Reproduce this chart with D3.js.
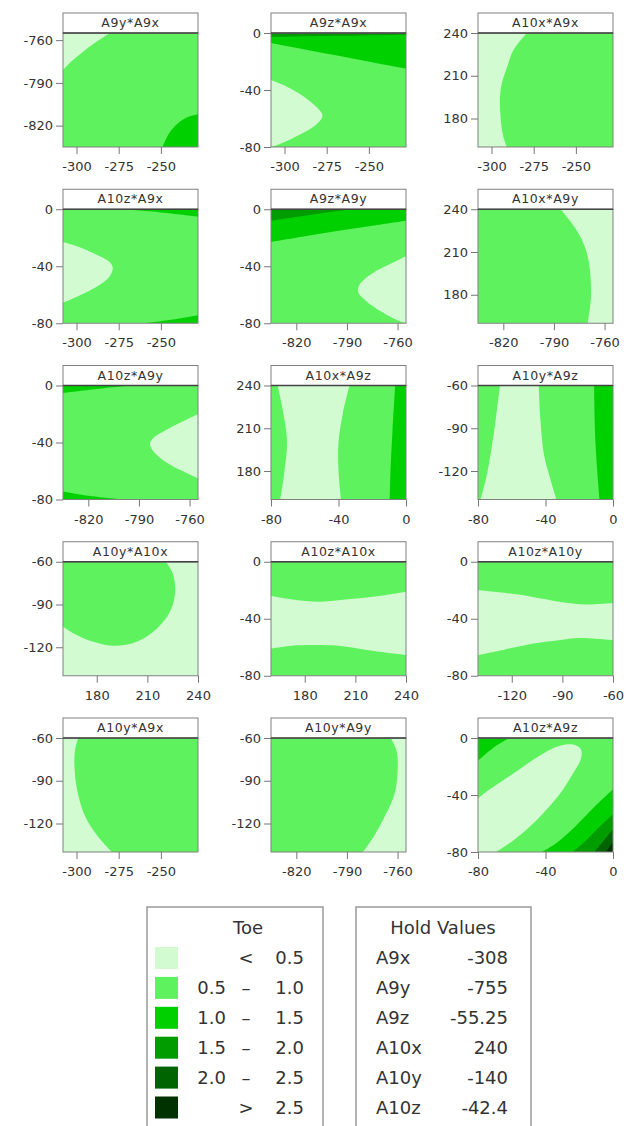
<!DOCTYPE html>
<html>
<head>
<meta charset="utf-8">
<script src="https://cdn.jsdelivr.net/npm/d3@7"></script>
<style>
  body { margin: 0; background: #fff; }
  text { font-family: "DejaVu Sans", Verdana, sans-serif; fill: #333; }
  .axis line { stroke: #777; }
  .axis path { display: none; }
</style>
</head>
<body>
<svg id="chart" width="632" height="1126"></svg>
<script>
// factor ranges and axis ticks
var varNames = ["A9x", "A9y", "A9z", "A10x", "A10y", "A10z"];
var varDomains = [[-308, -228], [-835, -755], [-80, 0], [160, 240], [-140, -60], [-80, 0]];
var varTicks = [[-300, -275, -250], [-820, -790, -760], [-80, -40, 0], [180, 210, 240], [-120, -90, -60], [-80, -40, 0]];

// Toe contour levels
var levelColors = ["#d2fbd2", "#5ef25e", "#00d000", "#009c00", "#006400", "#003200"];
var levelLow = ["", "0.5", "1.0", "1.5", "2.0", ""];
var levelSym = ["<", "\u2013", "\u2013", "\u2013", "\u2013", ">"];
var levelHigh = ["0.5", "1.0", "1.5", "2.0", "2.5", "2.5"];

// hold values
var holdNames = ["A9x", "A9y", "A9z", "A10x", "A10y", "A10z"];
var holdValues = ["-308", "-755", "-55.25", "240", "-140", "-42.4"];

// panels: y factor * x factor
var panelY = ["A9y", "A9z", "A10x", "A10z", "A9z", "A10x", "A10z", "A10x", "A10y", "A10y", "A10z", "A10z", "A10y", "A10y", "A10z"];
var panelX = ["A9x", "A9x", "A9x", "A9x", "A9y", "A9y", "A9y", "A9z", "A9z", "A10x", "A10x", "A10y", "A9x", "A9y", "A9z"];
var panelBase = [1, 1, 1, 1, 1, 1, 1, 1, 1, 0, 0, 0, 1, 1, 1];

// contour regions (data units): level, boundary, closing corners
var a9y_a9x = [
  {lv: 0, pts: [[-280, -755], [-288, -761], [-297, -769], [-304, -776], [-308, -781]], close: [[-308, -755]]},
  {lv: 2, pts: [[-249, -835], [-245.5, -826], [-240, -818.5], [-234, -814], [-228, -812]], close: [[-228, -835]]}
];
var a9z_a9x = [
  {lv: 2, pts: [[-308, -7], [-288, -11.5], [-268, -16], [-248, -20.5], [-228, -25]], close: [[-228, 0], [-308, 0]]},
  {lv: 3, pts: [[-308, -2.8], [-268, -2], [-228, -1.2]], close: [[-228, 0], [-308, 0]]},
  {lv: 0, pts: [[-308, -33], [-298, -38], [-288, -45], [-281, -52], [-277.5, -58], [-281, -64], [-292, -72], [-304, -78.5], [-308, -80]], close: []}
];
var a10x_a9x = [
  {lv: 0, pts: [[-279, 240], [-287, 228], [-290.5, 217], [-294, 204], [-295, 193], [-293.5, 170], [-291, 160]], close: [[-308, 160], [-308, 240]]}
];
var a10z_a9x = [
  {lv: 0, pts: [[-308, -23], [-298.5, -26.5], [-288, -32], [-280, -37.5], [-278.5, -41.5], [-281, -48], [-290.5, -56], [-300, -61.5], [-308, -65.5]], close: []},
  {lv: 2, pts: [[-272, 0], [-248, -2.4], [-228, -5.2]], close: [[-228, 0]]},
  {lv: 2, pts: [[-260, -80], [-244, -77.6], [-228, -74.4]], close: [[-228, -80]]}
];
var a9z_a9y = [
  {lv: 2, pts: [[-835, -23], [-815, -19], [-795, -15], [-775, -11.5], [-755, -8]], close: [[-755, 0], [-835, 0]]},
  {lv: 3, pts: [[-835, -8], [-819, -5.2], [-803, -2.4], [-787, 0]], close: [[-835, 0]]},
  {lv: 0, pts: [[-755, -33], [-764.5, -38.5], [-775, -45], [-782, -52], [-783.5, -57.5], [-779, -64], [-769.5, -72], [-759, -78.5], [-755, -80]], close: []}
];
var a10x_a9y = [
  {lv: 0, pts: [[-786, 240], [-777.5, 227], [-772.5, 216], [-769.5, 204], [-768, 180], [-770, 160]], close: [[-755, 160], [-755, 240]]}
];
var a10z_a9y = [
  {lv: 0, pts: [[-755, -20], [-764.5, -25.5], [-775, -32], [-782, -37.5], [-783.5, -41.5], [-780, -48], [-771, -56], [-761.5, -61.5], [-755, -65]], close: []},
  {lv: 2, pts: [[-835, -5.2], [-815, -2.4], [-795, 0]], close: [[-835, 0]]},
  {lv: 2, pts: [[-835, -74.4], [-819, -77.6], [-799, -80]], close: [[-835, -80]]}
];
var a10x_a9z = [
  {lv: 0, pts: [[-76, 240], [-72, 216], [-70.5, 200], [-72, 180], [-74.5, 160]], close: [[0, 160], [0, 240]]},
  {lv: 1, pts: [[-33.5, 240], [-37.5, 220], [-40, 200], [-40, 180], [-38.5, 160]], close: [[0, 160], [0, 240]]},
  {lv: 2, pts: [[-6.4, 240], [-8, 208], [-9.2, 180], [-9.6, 160]], close: [[0, 160], [0, 240]]}
];
var a10y_a9z = [
  {lv: 0, pts: [[-67, -60], [-69.5, -84], [-72, -104], [-75, -124], [-78.5, -140]], close: [[0, -140], [0, -60]]},
  {lv: 1, pts: [[-44, -60], [-43, -84], [-41, -108], [-37.5, -124], [-33.5, -140]], close: [[0, -140], [0, -60]]},
  {lv: 2, pts: [[-11.2, -60], [-10.4, -100], [-8, -140]], close: [[0, -140], [0, -60]]}
];
var a10y_a10x = [
  {lv: 1, pts: [[221, -60], [225, -68], [226.5, -80], [224, -93.5], [216, -106.5], [204, -116], [190.5, -119], [177.5, -116], [166.5, -110.5], [160, -105.5]], close: [[160, -60]]}
];
var a10z_a10x = [
  {lv: 1, pts: [[160, -24], [176, -27], [188, -28], [204, -26.5], [224, -24], [240, -21]], close: [[240, 0], [160, 0]]},
  {lv: 1, pts: [[160, -61], [172, -59], [184, -58.5], [200, -59], [220, -62.5], [240, -65.5]], close: [[240, -80], [160, -80]]}
];
var a10z_a10y = [
  {lv: 1, pts: [[-140, -20], [-116, -23], [-92, -28], [-76, -30], [-60, -29]], close: [[-60, 0], [-140, 0]]},
  {lv: 1, pts: [[-140, -65.5], [-124, -61.5], [-108, -57.5], [-92, -55], [-80, -53.5], [-60, -55]], close: [[-60, -80], [-140, -80]]}
];
var a10y_a9x = [
  {lv: 0, pts: [[-299, -60], [-301, -69.5], [-301, -84], [-299, -100], [-294.5, -116], [-288, -128], [-279, -140]], close: [[-308, -140], [-308, -60]]}
];
var a10y_a9y = [
  {lv: 0, pts: [[-764, -60], [-760.5, -69.5], [-760, -84], [-762, -100], [-768, -116], [-774, -129], [-780.5, -140]], close: [[-755, -140], [-755, -60]]}
];
var a10z_a9z = [
  {lv: 2, pts: [[-61.5, 0], [-70.5, -6.5], [-80, -16]], close: [[-80, 0]]},
  {lv: 0, closed: true, pts: [[-19, -8], [-23, -4.8], [-32, -5.6], [-44, -12.8], [-56, -22.4], [-68, -32], [-77.5, -40], [-84, -48], [-85, -68], [-81.5, -82.5],
                              [-73.5, -82], [-64, -76], [-51, -64], [-40, -51], [-31, -38.5], [-24, -25.5], [-19, -14.5]]},
  {lv: 2, pts: [[0, -36], [-12, -49.5], [-24, -64], [-34.5, -74.5], [-42.5, -80]], close: [[0, -80]]},
  {lv: 3, pts: [[0, -53.5], [-9.5, -64], [-17.5, -73.5], [-24, -80]], close: [[0, -80]]},
  {lv: 4, pts: [[0, -64], [-5.5, -72], [-11, -80]], close: [[0, -80]]},
  {lv: 5, pts: [[0, -73], [-2.4, -77], [-4.8, -80]], close: [[0, -80]]}
];
var panelRegions = [a9y_a9x, a9z_a9x, a10x_a9x, a10z_a9x, a9z_a9y, a10x_a9y, a10z_a9y, a10x_a9z, a10y_a9z,
                    a10y_a10x, a10z_a10x, a10z_a10y, a10y_a9x, a10y_a9y, a10z_a9z];

// layout
var plotW = 135, plotH = 114, titleH = 20;
var colLeft = [63, 271, 478];
var firstTop = 33, rowStep = 176.25;

var svg = d3.select("#chart");

function regionPath(r, x, y) {
    var line = d3.line()
        .x(function (d) { return x(d[0]); })
        .y(function (d) { return y(d[1]); })
        .curve(r.closed ? d3.curveCatmullRomClosed.alpha(0.5) : d3.curveCatmullRom.alpha(0.5));
    var p = line(r.pts);
    if (!r.closed) {
        r.close.forEach(function (c) { p += "L" + x(c[0]) + "," + y(c[1]); });
        p += "Z";
    }
    return p;
}

panelY.forEach(function (yv, i) {
    var xv = panelX[i];
    var xi = varNames.indexOf(xv), yi = varNames.indexOf(yv);
    var left = colLeft[i % 3];
    var top = firstTop + Math.floor(i / 3) * rowStep;

    var x = d3.scaleLinear().domain(varDomains[xi]).range([0, plotW]);
    var y = d3.scaleLinear().domain(varDomains[yi]).range([plotH, 0]);

    var g = svg.append("g").attr("transform", "translate(" + left + "," + top + ")");

    g.append("clipPath").attr("id", "clip" + i)
        .append("rect").attr("width", plotW).attr("height", plotH);

    var area = g.append("g").attr("clip-path", "url(#clip" + i + ")");
    area.append("rect")
        .attr("width", plotW).attr("height", plotH)
        .attr("fill", levelColors[panelBase[i]]);
    area.selectAll("path")
        .data(panelRegions[i])
        .enter().append("path")
        .attr("d", function (r) { return regionPath(r, x, y); })
        .attr("fill", function (r) { return levelColors[r.lv]; });

    // frame
    g.append("rect")
        .attr("width", plotW).attr("height", plotH)
        .attr("fill", "none").attr("stroke", "#808080");

    // title box
    g.append("rect")
        .attr("y", -titleH).attr("width", plotW).attr("height", titleH)
        .attr("fill", "#fff").attr("stroke", "#808080");
    g.append("line")
        .attr("x1", 0).attr("x2", plotW)
        .attr("stroke", "#444").attr("stroke-width", 1.5);
    g.append("text")
        .attr("x", plotW / 2).attr("y", -6)
        .attr("text-anchor", "middle")
        .style("font-size", "12.5px")
        .style("letter-spacing", "0.6px")
        .text(yv + "*" + xv);

    // axes
    g.append("g").attr("class", "axis")
        .call(d3.axisLeft(y).tickValues(varTicks[yi]).tickSize(7).tickPadding(3).tickFormat(function (d) { return d; }))
        .selectAll("text").style("font-size", "13px").attr("fill", "#333");
    g.append("g").attr("class", "axis")
        .attr("transform", "translate(0," + plotH + ")")
        .call(d3.axisBottom(x).tickValues(varTicks[xi]).tickSize(7).tickPadding(8).tickFormat(function (d) { return d; }))
        .selectAll("text").style("font-size", "13px").attr("fill", "#333");
});

// Toe legend
var legTop = 907, rowY0 = 958, rowGap = 29.9;
var toe = svg.append("g");
toe.append("rect")
    .attr("x", 147).attr("y", legTop).attr("width", 176).attr("height", 240)
    .attr("fill", "#fff").attr("stroke", "#999").attr("stroke-width", 1.5);
toe.append("text")
    .attr("x", 248).attr("y", 934).attr("text-anchor", "middle")
    .style("font-size", "18px").text("Toe");
levelColors.forEach(function (c, i) {
    var cy = rowY0 + i * rowGap;
    toe.append("rect")
        .attr("x", 155).attr("y", cy - 11).attr("width", 23).attr("height", 22)
        .attr("fill", c);
    toe.append("text").attr("x", 226).attr("y", cy + 6).attr("text-anchor", "end")
        .style("font-size", "18px").text(levelLow[i]);
    toe.append("text").attr("x", 246).attr("y", cy + 6).attr("text-anchor", "middle")
        .style("font-size", "18px").text(levelSym[i]);
    toe.append("text").attr("x", 304).attr("y", cy + 6).attr("text-anchor", "end")
        .style("font-size", "18px").text(levelHigh[i]);
});

// Hold values legend
var hold = svg.append("g");
hold.append("rect")
    .attr("x", 356).attr("y", legTop).attr("width", 175).attr("height", 240)
    .attr("fill", "#fff").attr("stroke", "#999").attr("stroke-width", 1.5);
hold.append("text")
    .attr("x", 443).attr("y", 934).attr("text-anchor", "middle")
    .style("font-size", "18px").text("Hold Values");
holdNames.forEach(function (n, i) {
    var cy = rowY0 + i * rowGap;
    hold.append("text").attr("x", 376).attr("y", cy + 6)
        .style("font-size", "18px").text(n);
    hold.append("text").attr("x", 508).attr("y", cy + 6).attr("text-anchor", "end")
        .style("font-size", "18px").text(holdValues[i]);
});
</script>
</body>
</html>
